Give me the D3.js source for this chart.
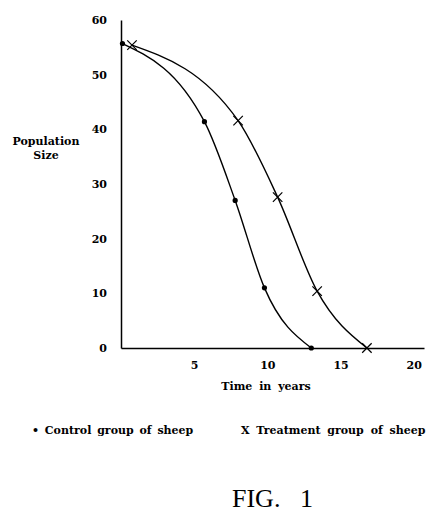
<!DOCTYPE html>
<html lang="en">
<head>
<meta charset="utf-8">
<title>FIG. 1 - Population Size</title>
<script src="https://d3js.org/d3.v7.min.js"></script>
<style>
  body { margin: 0; background: #fff; }
  .lbl { font-family: "DejaVu Serif", serif; font-weight: bold; font-size: 11px; fill: #000; }
  .axis text { font-family: "DejaVu Serif", serif; font-weight: bold; font-size: 11px; fill: #000; }
  .axis path { stroke: #000; stroke-width: 1.5; }
  .line { fill: none; stroke: #000; stroke-width: 1.4; }
  .fig { font-family: "Liberation Serif", serif; font-size: 26px; fill: #000; }
</style>
</head>
<body>
<script>
// data - years vs population size
const controlYears = [0.1, 5.7, 7.8, 9.8, 13.0];
const controlPop = [55.7, 41.4, 27.0, 11.0, 0];
const treatYears = [0.75, 8.0, 10.7, 13.4, 16.8];
const treatPop = [55.4, 41.6, 27.6, 10.4, 0];
const xTicks = [5, 10, 15, 20];
const yTicks = [0, 10, 20, 30, 40, 50, 60];

const w = 438;
const h = 513;

const control = controlYears.map((x, i) => ({ x: x, y: controlPop[i] }));
const treat = treatYears.map((x, i) => ({ x: x, y: treatPop[i] }));

const xScale = d3.scaleLinear().domain([0, 20.7]).range([121, 424]);
const yScale = d3.scaleLinear().domain([0, 60]).range([348, 20]);

const svg = d3.select("body").append("svg")
  .attr("width", w)
  .attr("height", h);

//left axis
svg.append("g")
  .attr("class", "axis")
  .attr("transform", "translate(121,0)")
  .call(d3.axisLeft(yScale).tickValues(yTicks).tickSize(0).tickPadding(14));

//bottom axis
svg.append("g")
  .attr("class", "axis")
  .attr("transform", "translate(0,348)")
  .call(d3.axisBottom(xScale).tickValues(xTicks).tickSize(0).tickPadding(13));

//curves - smooth line through the measured points
const line = d3.line()
  .x(d => xScale(d.x))
  .y(d => yScale(d.y))
  .curve(d3.curveMonotoneX);

svg.append("path").attr("class", "line").attr("d", line(control));
svg.append("path").attr("class", "line").attr("d", line(treat));

//markers
svg.selectAll(".dot")
  .data(control)
  .enter().append("circle")
  .attr("cx", d => xScale(d.x))
  .attr("cy", d => yScale(d.y))
  .attr("r", 2.6)
  .attr("fill", "#000");

svg.selectAll(".xmark")
  .data(treat)
  .enter().append("path")
  .attr("d", d3.symbol(d3.symbolX, 60))
  .attr("transform", d => "translate(" + xScale(d.x) + "," + yScale(d.y) + ")")
  .attr("fill", "none")
  .attr("stroke", "#000")
  .attr("stroke-width", 1.2);

//axis labels
svg.append("text").attr("class", "lbl").attr("x", 46).attr("y", 145)
  .attr("text-anchor", "middle").text("Population");
svg.append("text").attr("class", "lbl").attr("x", 46).attr("y", 159)
  .attr("text-anchor", "middle").text("Size");
svg.append("text").attr("class", "lbl").attr("x", 266).attr("y", 390)
  .attr("text-anchor", "middle").style("word-spacing", "3px").text("Time in years");

//legend
svg.append("text").attr("class", "lbl").attr("x", 32).attr("y", 434)
  .style("word-spacing", "2px").text("\u2022 Control group of sheep");
svg.append("text").attr("class", "lbl").attr("x", 241).attr("y", 434)
  .style("word-spacing", "3px").text("X Treatment group of sheep");

//figure caption
svg.append("text").attr("class", "fig").attr("x", 232).attr("y", 507)
  .style("word-spacing", "13px").text("FIG. 1");
</script>
</body>
</html>
